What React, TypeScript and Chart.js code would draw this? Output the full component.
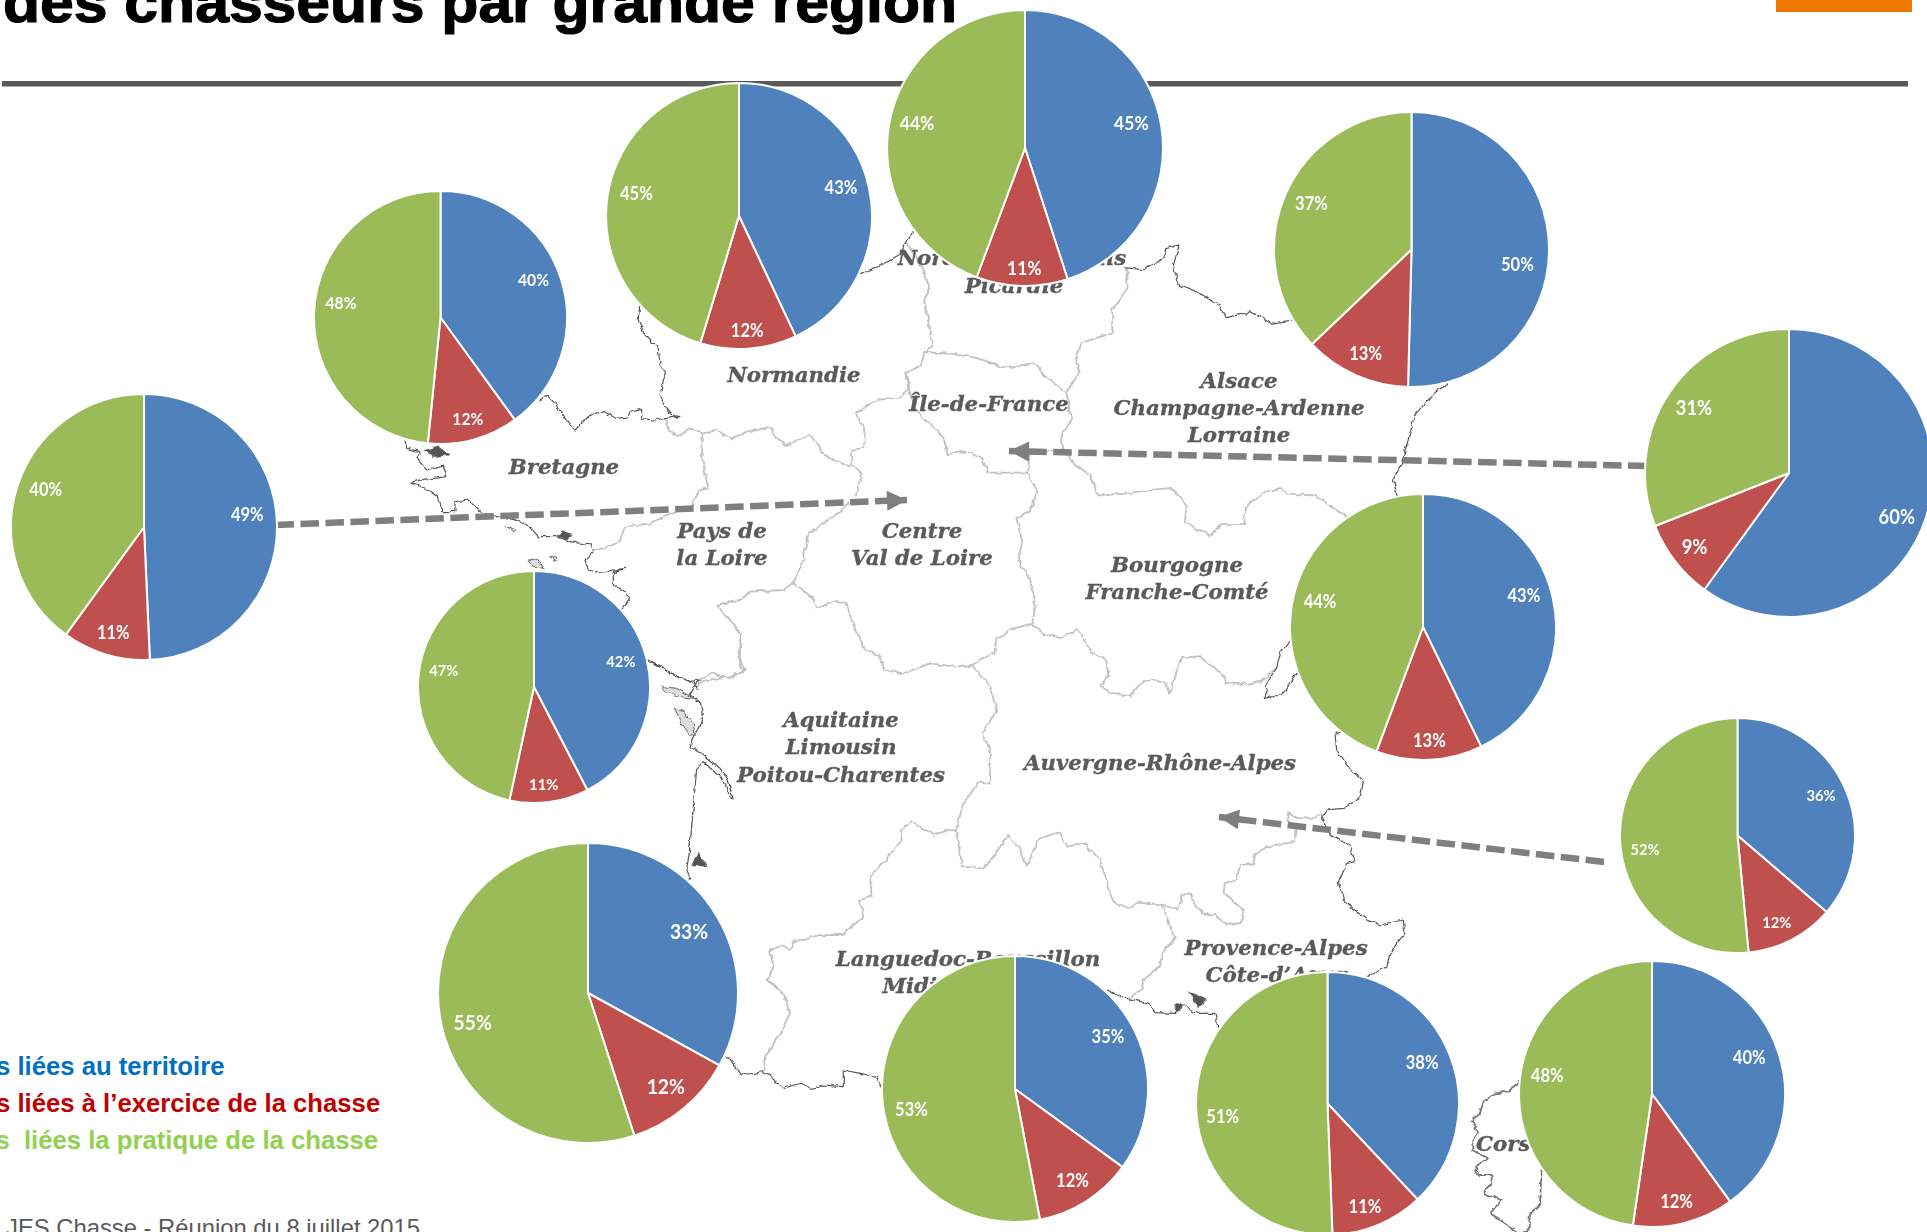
import React, { useEffect, useRef } from "react";
import { Chart, registerables } from "chart.js";

Chart.register(...registerables);

// ---------- data ----------
const CATEGORIES = ["liées au territoire", "liées à l'exercice de la chasse", "liées la pratique de la chasse"];
const PIE_NAMES = ["Bretagne", "Normandie ouest", "Normandie", "Nord-Picardie", "Alsace-Champagne-Lorraine", "Île-de-France", "Bourgogne-Franche-Comté", "Auvergne-Rhône-Alpes", "Pays de la Loire", "Aquitaine-Limousin-Poitou", "Languedoc-Midi-Pyrénées", "PACA", "Corse"];
const TERRITOIRE = [49.3, 40, 43, 45, 50.4, 60, 42.8, 36.3, 42.4, 33, 35, 38, 40];
const EXERCICE = [10.7, 11.6, 11.7, 10.7, 12.5, 9, 12.9, 12.2, 11, 12, 12, 11.4, 12.3];
const PRATIQUE = [40, 48.4, 45.3, 44.3, 37.1, 31, 44.3, 51.5, 46.6, 55, 53, 50.6, 47.7];
const LEGEND_TEXTS = ["s liées au territoire", "s liées à l’exercice de la chasse", "s  liées la pratique de la chasse"];
const TITLE = "des chasseurs par grande région";
const FOOTER = "JES Chasse - Réunion du 8 juillet 2015";

// ---------- layout ----------
const PIE_LAYOUT = [
  { cx: 143.5, cy: 526.5, r: 132, font: 17 },
  { cx: 440, cy: 317, r: 125.5, font: 16 },
  { cx: 739, cy: 216, r: 132, font: 17 },
  { cx: 1025, cy: 148, r: 137, font: 18 },
  { cx: 1411, cy: 249, r: 136.5, font: 17 },
  { cx: 1789, cy: 472.5, r: 143, font: 19 },
  { cx: 1422.5, cy: 627, r: 132, font: 17 },
  { cx: 1737.5, cy: 835, r: 116.5, font: 15 },
  { cx: 533.5, cy: 687, r: 115, font: 15 },
  { cx: 587.5, cy: 993, r: 149, font: 20 },
  { cx: 1015, cy: 1088.5, r: 132, font: 17 },
  { cx: 1327, cy: 1103, r: 130.5, font: 17 },
  { cx: 1652, cy: 1094, r: 132, font: 17 },
];
// label placement corrections in full-size pixels: [dx, dy] per slice
const LABEL_NUDGE = [
  [[-2, -9], [1, 1], [1, -5]],
  [[-1, -6], [0, 1], [0, -9]],
  [[0, -5], [0, 2], [1, -6]],
  [[-1, -7], [2, 2], [-1, -5]],
  [[-4, 14], [0, 1], [0, -2]],
  [[0, 10], [-1, 2], [-1, -1]],
  [[-1, -7], [1, 1], [0, -6]],
  [[1, -2], [-4, 4], [-1, 10]],
  [[0, -4], [-3, 2], [-1, -7]],
  [[-1, 0], [1, 1], [2, 12]],
  [[0, -4], [0, 2], [1, 11]],
  [[-1, -2], [-4, 5], [-1, 12]],
  [[-2, -4], [-2, 1], [0, -10]],
];
const COLORS = ["#4F81BD", "#C0504D", "#9BBB59"];
const LEGEND_COLORS = ["#0070C0", "#C00000", "#92D050"];

type Seg = number[];
const S6 = 1568 / 600;
const COAST: Seg[] = [
  [400, 240, 3, 695, 160, 720, 190, 715, 240, 735, 285, 775, 325, 780, 375, 800, 400, 790, 420, 780, 465, 795, 500, 815, 525, 840, 530, 800, 535, 760, 540, 725, 535, 725, 505, 690, 515, 685, 530, 650, 535, 610, 515, 570, 525, 525, 570, 490, 525, 465, 490, 440, 465, 420, 480],
  [400, 240, 3, 15, 600, 20, 625, 60, 635, 50, 655, 80, 690, 130, 675, 140, 710, 100, 715, 30, 730, 80, 745, 115, 770, 125, 815, 165, 815, 165, 785, 205, 780, 240, 815, 290, 830, 340, 835, 390, 860, 415, 890, 470, 890, 510, 905, 575, 915, 580, 935, 555, 960, 565, 990, 610, 1000, 640, 990, 680, 985, 640, 995, 640, 1035, 680, 1060, 690, 1075, 665, 1105],
  [400, 240, 3, 740, 1260, 790, 1285, 830, 1310, 880, 1330, 895, 1345],
  [640, 640, 3, 15, 55, 95, 100, 150, 125, 175, 120, 150, 165, 185, 190, 190, 225, 175, 265, 160, 290, 150, 320, 190, 345, 240, 385, 265, 420, 280, 480, 270, 470, 250, 420, 190, 365, 170, 385, 160, 500, 150, 620, 140, 690, 150, 710, 140, 725],
  [640, 640, 3, 245, 1250, 270, 1255, 300, 1300, 325, 1305, 365, 1295, 395, 1310, 430, 1345, 480, 1330, 515, 1345, 550, 1335, 610, 1340, 610, 1290, 660, 1300, 710, 1310, 725, 1340],
  [1100, 720, 3, 20, 810, 80, 835, 150, 850, 165, 878, 225, 880, 240, 855, 260, 855, 280, 880, 345, 880, 355, 925],
  [1100, 720, 3, 800, 770, 860, 740, 870, 700, 890, 670, 915, 640, 910, 600, 840, 615, 800, 600, 730, 540, 725, 510, 715, 490, 740, 430, 765, 425, 750, 375, 690, 345, 665, 290, 680, 270, 730, 265, 780, 235, 790, 185, 750, 145, 710, 90, 705, 40, 730, 35],
  [850, 220, S6, 1150, 1100, 1125, 1130, 1115, 1170, 1090, 1210, 1085, 1250, 1130, 1240, 1165, 1185],
  [850, 220, S6, 1430, 720, 1420, 680, 1440, 640, 1460, 570, 1475, 510, 1530, 450, 1568, 420],
  [850, 220, S6, 5, 150, 60, 130, 130, 90, 150, 50, 165, 30],
  [850, 220, S6, 720, 125, 770, 130, 820, 100, 825, 75, 860, 65, 845, 120, 860, 170, 920, 195, 965, 225, 985, 255, 1045, 240, 1100, 270, 1165, 260],
];
const BORDERS: Seg[] = [
  [400, 240, 3, 795, 535, 805, 570, 830, 590, 870, 565, 910, 578, 950, 570, 990, 595, 1050, 575, 1110, 560, 1130, 590, 1160, 615, 1230, 585, 1255, 610, 1265, 640, 1300, 660, 1350, 680],
  [400, 240, 3, 910, 578, 905, 650, 925, 745, 895, 750, 875, 800, 800, 825, 750, 850, 675, 860, 660, 905, 630, 920, 580, 930],
  [850, 220, S6, 145, 400, 155, 440, 125, 465, 70, 470, 15, 505, 40, 550, 38, 590, 5, 605, 5, 640, 30, 660, 15, 720],
  [400, 240, 3, 1350, 790, 1300, 830, 1225, 880, 1210, 960, 1180, 1030, 1150, 1050, 1050, 1055, 1020, 1080, 950, 1095, 985, 1135, 1020, 1180, 1020, 1280, 1035, 1295, 980, 1310, 900, 1325, 890, 1345],
  [640, 640, 3, 300, 0, 295, 50, 315, 90, 270, 115, 220, 100, 175, 120],
  [400, 240, 3, 1180, 1030, 1240, 1075, 1250, 1105, 1300, 1085, 1340, 1090, 1350, 1130, 1380, 1200],
  [640, 640, 3, 660, 0, 670, 25, 715, 45, 735, 90, 790, 100, 870, 70, 940, 80, 995, 75],
  [850, 220, S6, 315, 1165, 380, 1130, 385, 1095, 420, 1070, 475, 1055, 485, 1010, 470, 940, 440, 890, 450, 840, 435, 780, 470, 760, 490, 710, 465, 660, 410, 660, 360, 660, 345, 620, 300, 605, 255, 612, 245, 570, 205, 530, 170, 495, 150, 430, 145, 400, 185, 380, 195, 345, 270, 350, 330, 360, 400, 385, 480, 375, 510, 410, 565, 450, 580, 520, 550, 565, 555, 600, 470, 610, 465, 655],
  [850, 220, S6, 195, 345, 215, 330, 205, 270, 195, 200, 210, 180, 190, 130, 150, 60],
  [850, 220, S6, 565, 450, 600, 400, 590, 365, 605, 320, 685, 295, 685, 235, 725, 180, 725, 130],
  [850, 220, S6, 555, 600, 590, 640, 625, 665, 650, 720, 720, 715, 790, 705, 840, 700, 880, 745, 875, 790, 940, 825, 975, 795, 1030, 795, 1035, 750, 1085, 710, 1125, 700, 1145, 715, 1215, 720, 1300, 775],
  [850, 220, S6, 475, 1055, 510, 1085, 555, 1090, 595, 1070, 630, 1130, 670, 1150, 675, 1190, 655, 1215, 680, 1235, 730, 1245, 765, 1205, 820, 1205, 835, 1240, 865, 1145, 915, 1140, 965, 1180, 985, 1210, 1040, 1215, 1075, 1205, 1115, 1170],
  [640, 640, 3, 995, 75, 1045, 130, 1070, 210, 1025, 280, 1050, 330, 1050, 430, 1015, 430, 970, 490, 950, 565, 945, 565, 880, 585, 815, 545, 785, 565, 785, 600, 755, 640, 690, 710, 695, 770, 660, 780, 670, 830, 605, 885, 540, 885, 460, 905, 450, 930, 430, 915, 390, 930, 400, 980, 380, 1020, 430, 1060, 450, 1120, 410, 1200, 375, 1250, 370, 1295],
  [640, 640, 3, 945, 565, 960, 620, 965, 680, 1030, 685, 1060, 650, 1105, 585, 1140, 625, 1160, 680, 1195, 600, 1255, 575, 1280, 620, 1335, 610, 1380, 660, 1420, 785, 1465, 805, 1500, 785],
  [1100, 720, 3, 120, 545, 185, 555, 200, 590, 225, 655, 185, 700, 180, 740, 130, 780, 125, 810, 80, 835],
  [1100, 720, 3, 185, 555, 235, 570, 245, 525, 270, 520, 280, 545, 305, 580, 345, 585, 380, 615, 425, 605, 430, 570, 370, 520, 375, 490, 410, 480, 420, 435, 460, 430, 465, 405, 500, 380, 585, 365, 590, 325, 560, 300, 565, 280, 595, 295, 625, 295, 660, 285],
];
const CORSICA: Seg = [1440, 1050, 3, 240, 95, 200, 125, 165, 130, 130, 155, 120, 190, 95, 215, 115, 245, 100, 265, 100, 300, 145, 325, 105, 350, 115, 375, 155, 375, 155, 400, 130, 430, 185, 450, 150, 490, 195, 520, 235, 546, 265, 546, 270, 490, 300, 465, 305, 350];
const ISLANDS: Seg[] = [
  [640, 640, 3, 105, 205, 130, 215, 160, 250, 165, 285, 150, 285, 125, 250],
  [640, 640, 3, 70, 140, 110, 145, 160, 175, 120, 170, 75, 155],
  [400, 240, 3, 385, 960, 410, 955, 430, 985, 400, 982],
  [400, 240, 3, 450, 950, 470, 952, 468, 960],
  [400, 240, 3, 320, 860, 350, 870, 340, 878],
];
const BLOBS: Seg[] = [
  [640, 640, 3, 155, 675, 175, 640, 205, 680, 170, 675],
  [1100, 720, 3, 265, 815, 300, 830, 320, 840, 295, 860, 280, 840],
  [400, 240, 3, 75, 630, 115, 620, 150, 645, 100, 650],
  [400, 240, 3, 470, 885, 490, 875, 515, 885, 495, 900],
  [1100, 720, 3, 228, 850, 245, 855, 240, 875, 230, 875],
];
const toPoints = (s: Seg) => {
  const [ox, oy, k] = s;
  const out: string[] = [];
  for (let i = 3; i < s.length; i += 2) out.push(`${(ox + s[i] / k).toFixed(1)},${(oy + s[i + 1] / k).toFixed(1)}`);
  return out.join(" ");
};

const REGION_LABELS: { t: string; x: number; y: number }[] = [
  { t: "Normandie", x: 794, y: 376 },
  { t: "Bretagne", x: 564, y: 468 },
  { t: "Île-de-France", x: 989, y: 405 },
  { t: "Alsace", x: 1239, y: 382 },
  { t: "Champagne-Ardenne", x: 1239, y: 409 },
  { t: "Lorraine", x: 1239, y: 436 },
  { t: "Pays de", x: 722, y: 532 },
  { t: "la Loire", x: 722, y: 559 },
  { t: "Centre", x: 922, y: 532 },
  { t: "Val de Loire", x: 922, y: 559 },
  { t: "Bourgogne", x: 1177, y: 566 },
  { t: "Franche-Comté", x: 1177, y: 593 },
  { t: "Aquitaine", x: 841, y: 721 },
  { t: "Limousin", x: 841, y: 748 },
  { t: "Poitou-Charentes", x: 841, y: 776 },
  { t: "Auvergne-Rhône-Alpes", x: 1160, y: 764 },
  { t: "Languedoc-Roussillon", x: 968, y: 960 },
  { t: "Midi-Pyrénées", x: 968, y: 987 },
  { t: "Provence-Alpes", x: 1276, y: 949 },
  { t: "Côte-d’Azur", x: 1276, y: 976 },
  { t: "Nord-Pas-de-Calais", x: 1012, y: 259 },
  { t: "Picardie", x: 1014, y: 287 },
  { t: "Corse", x: 1510, y: 1145 },
];

const ARROWS = [
  { x1: 275.5, y1: 525, x2: 907, y2: 500 },
  { x1: 1646.6, y1: 466, x2: 1009, y2: 451 },
  { x1: 1604, y1: 862, x2: 1219, y2: 817 },
];
const ARROW_GREY = "#7F7F7F";

// percentage labels placed "inside end", as the spreadsheet does
const insideEndLabels = {
  id: "insideEndLabels",
  afterDatasetsDraw(chart: any, _a: any, opts: any) {
    const ctx = chart.ctx;
    const meta = chart.getDatasetMeta(0);
    const values = chart.data.datasets[0].data;
    ctx.save();
    ctx.font = `700 ${opts.size + 1}px Lato, "Open Sans", sans-serif`;
    ctx.fillStyle = "#fff";
    ctx.textAlign = "center";
    ctx.textBaseline = "middle";
    const squeeze = 0.92;
    meta.data.forEach((arc: any, i: number) => {
      const mid = (arc.startAngle + arc.endAngle) / 2;
      const text = `${Math.round(values[i])}%`;
      const w = ctx.measureText(text).width * squeeze;
      const h = opts.size * 0.78;
      const R = arc.outerRadius - opts.pad;
      const sx = Math.cos(mid);
      const sy = Math.sin(mid);
      // largest distance along the slice axis that keeps the label box inside the circle
      let lo = 0;
      let hi = R;
      for (let k = 0; k < 24; k++) {
        const d = (lo + hi) / 2;
        const fx = Math.abs(d * sx) + w / 2;
        const fy = Math.abs(d * sy) + h / 2;
        if (Math.hypot(fx, fy) > R) hi = d;
        else lo = d;
      }
      const [nx, ny] = opts.nudge[i];
      ctx.save();
      ctx.translate(arc.x + lo * sx + nx, arc.y + lo * sy + ny);
      ctx.scale(squeeze, 1);
      ctx.fillText(text, 0, 0);
      ctx.restore();
    });
    ctx.restore();
  },
};

function Pie({ index }: { index: number }) {
  const ref = useRef<HTMLCanvasElement>(null);
  const { cx, cy, r, font } = PIE_LAYOUT[index];
  const size = Math.round(2 * r) + 4;
  useEffect(() => {
    if (!ref.current) return;
    const chart = new Chart(ref.current, {
      type: "pie",
      data: {
        labels: CATEGORIES,
        datasets: [
          {
            label: PIE_NAMES[index],
            data: [TERRITOIRE[index], EXERCICE[index], PRATIQUE[index]],
            backgroundColor: COLORS,
            borderColor: "#ffffff",
            borderWidth: 2,
          },
        ],
      },
      options: {
        animation: false,
        responsive: false,
        maintainAspectRatio: false,
        layout: { padding: 0 },
        plugins: {
          legend: { display: false },
          tooltip: { enabled: false },
          insideEndLabels: { size: font, pad: 11, nudge: LABEL_NUDGE[index] },
        } as any,
      },
      plugins: [insideEndLabels],
    });
    return () => chart.destroy();
  }, [index, font]);
  return (
    <canvas
      ref={ref}
      width={size}
      height={size}
      style={{ position: "absolute", left: cx - size / 2, top: cy - size / 2, width: size, height: size }}
    />
  );
}

function arrowHead(a: { x1: number; y1: number; x2: number; y2: number }) {
  const dx = a.x2 - a.x1;
  const dy = a.y2 - a.y1;
  const L = Math.hypot(dx, dy);
  const ux = dx / L;
  const uy = dy / L;
  const bx = a.x2 - ux * 20;
  const by = a.y2 - uy * 20;
  return `${a.x2},${a.y2} ${bx - uy * 10},${by + ux * 10} ${bx + uy * 10},${by - ux * 10}`;
}

export default function App() {
  return (
    <div style={{ position: "absolute", left: 0, top: 0, width: 1927, height: 1232, overflow: "hidden", background: "#fff" }}>
      <svg width={1927} height={1232} style={{ position: "absolute", left: 0, top: 0 }}>
        <defs>
          <filter id="soft" x="0" y="0" width="1927" height="1232" filterUnits="userSpaceOnUse">
            <feGaussianBlur stdDeviation="0.55" />
          </filter>
          <filter id="rough" x="0" y="0" width="1927" height="1232" filterUnits="userSpaceOnUse">
            <feTurbulence type="fractalNoise" baseFrequency="0.14" numOctaves="2" seed="7" result="n" />
            <feDisplacementMap in="SourceGraphic" in2="n" scale="5" xChannelSelector="R" yChannelSelector="G" />
            <feGaussianBlur stdDeviation="0.5" />
          </filter>
        </defs>
        <text x={3} y={22} textLength={954} lengthAdjust="spacingAndGlyphs" stroke="#000" strokeWidth={1.2} style={{ font: 'bold 58px "Liberation Sans", Arial, sans-serif' }} fill="#000">
          {TITLE}
        </text>
        <rect x={2} y={81} width={1906} height={5.5} fill="#595959" />
        <rect x={1776} y={0} width={136} height={12} fill="#EE7700" />
        <g filter="url(#rough)" fill="none" strokeLinejoin="round" strokeLinecap="round">
          {BORDERS.map((s, i) => (
            <polyline key={i} points={toPoints(s)} stroke="#c2c2c2" strokeWidth={1.8} />
          ))}
          {COAST.map((s, i) => (
            <polyline key={i} points={toPoints(s)} stroke="#555" strokeWidth={1.2} />
          ))}
          <polyline points={toPoints(CORSICA)} stroke="#777" strokeWidth={1.8} />
          {ISLANDS.map((s, i) => (
            <polygon key={i} points={toPoints(s)} stroke="#666" strokeWidth={1} fill="#ddd" />
          ))}
          {BLOBS.map((s, i) => (
            <polygon key={i} points={toPoints(s)} fill="#555" stroke="#555" strokeWidth={0.5} />
          ))}
        </g>
        <g filter="url(#soft)">
          {REGION_LABELS.map((l) => (
            <text
              key={l.t}
              x={l.x}
              y={l.y}
              textAnchor="middle"
              dominantBaseline="middle"
              fill="#5a5a5a"
              stroke="#5a5a5a"
              strokeWidth={0.35}
              style={{ font: 'italic bold 21.3px "DejaVu Serif", serif' }}
            >
              {l.t}
            </text>
          ))}
        </g>
        {ARROWS.map((a, i) => (
          <g key={i}>
            <line x1={a.x1} y1={a.y1} x2={a.x2} y2={a.y2} stroke={ARROW_GREY} strokeWidth={6.5} strokeDasharray="18.5 6.5" />
            <polygon points={arrowHead(a)} fill={ARROW_GREY} />
          </g>
        ))}
        {LEGEND_TEXTS.map((t, i) => (
          <text key={t} x={i === 2 ? -4.6 : -4} y={1075 + i * 37} fill={LEGEND_COLORS[i]} style={{ font: 'bold 25.7px "Liberation Sans", Arial, sans-serif', whiteSpace: "pre" }}>
            {t}
          </text>
        ))}
        <text x={6} y={1236} fill="#595959" style={{ font: '23.8px "Liberation Sans", Arial, sans-serif' }}>
          {FOOTER}
        </text>
      </svg>
      {PIE_LAYOUT.map((_, i) => (
        <Pie key={i} index={i} />
      ))}
    </div>
  );
}
